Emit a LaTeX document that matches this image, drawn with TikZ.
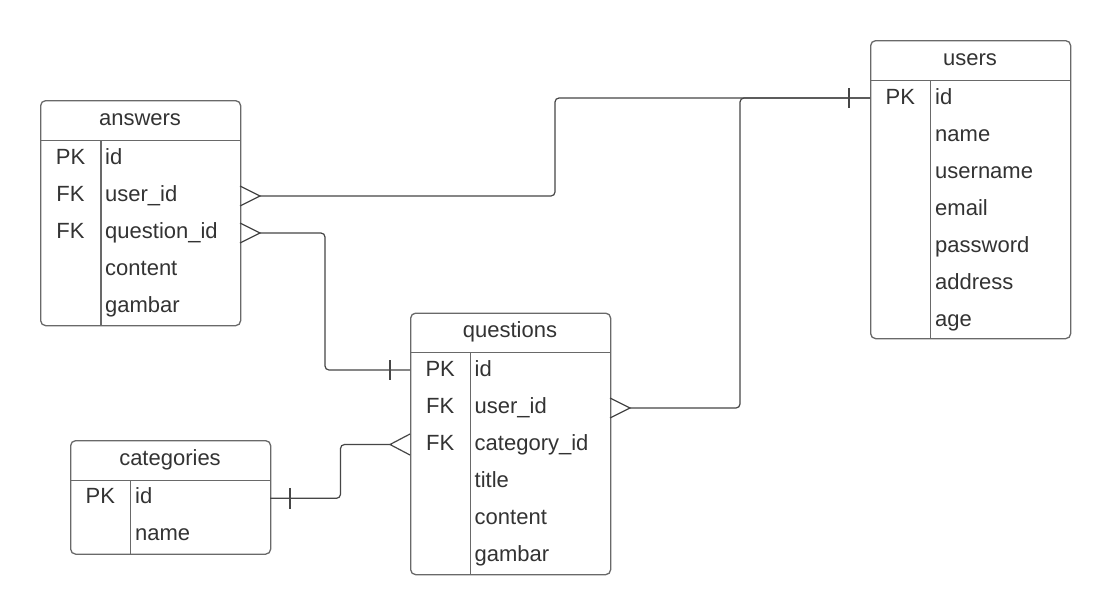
\documentclass[tikz,border=0pt]{standalone}
\usepackage{fontspec}
\setmainfont{Liberation Sans}
\definecolor{boxc}{RGB}{105,105,105}
\definecolor{linec}{RGB}{70,70,70}
\definecolor{txtc}{RGB}{51,51,51}
\tikzset{
  tbl/.style={draw=boxc, line width=1.3pt, rounded corners=5pt, inner sep=0pt, anchor=north west, minimum width=200pt},
  sep/.style={draw=boxc, line width=1.3pt},
  hdr/.style={anchor=base, inner sep=0pt, text=txtc, font=\fontsize{22}{24}\selectfont},
  key/.style={anchor=base, inner sep=0pt, text=txtc, font=\fontsize{22}{24}\selectfont},
  fld/.style={anchor=base west, inner sep=0pt, text=txtc, font=\fontsize{22}{24}\selectfont},
  conn/.style={draw=linec, line width=1.2pt, rounded corners=4pt},
  notation/.style={draw=linec, line width=1.2pt}
}
\begin{document}
\begin{tikzpicture}[x=1pt, y=-1pt]
\useasboundingbox (0,0) rectangle (1110,614);
\fill[white] (0,0) rectangle (1110,614);

% ---------- answers ----------
\node[tbl, minimum height=225pt] (answers) at (40,100) {};
\draw[sep] (40,140.7) -- (240,140.7);
\draw[sep] (101,140.7) -- (101,325);
\node[hdr] (answers-h) at (140,125) {answers};
\node[key] (answers-k1) at (70.5,164) {PK};
\node[key] (answers-k2) at (70.5,201) {FK};
\node[key] (answers-k3) at (70.5,238) {FK};
\node[fld] (answers-f1) at (105,164) {id};
\node[fld] (answers-f2) at (105,201) {user\_id};
\node[fld] (answers-f3) at (105,238) {question\_id};
\node[fld] (answers-f4) at (105,275) {content};
\node[fld] (answers-f5) at (105,312) {gambar};

% ---------- users ----------
\node[tbl, minimum height=298pt] (users) at (870,40) {};
\draw[sep] (870,80.7) -- (1070,80.7);
\draw[sep] (930.7,80.7) -- (930.7,338);
\node[hdr] (users-h) at (970,65) {users};
\node[key] (users-k1) at (900.3,104.5) {PK};
\node[fld] (users-f1) at (935,104.5) {id};
\node[fld] (users-f2) at (935,141.5) {name};
\node[fld] (users-f3) at (935,178.5) {username};
\node[fld] (users-f4) at (935,215.5) {email};
\node[fld] (users-f5) at (935,252.5) {password};
\node[fld] (users-f6) at (935,289.5) {address};
\node[fld] (users-f7) at (935,326.5) {age};

% ---------- questions ----------
\node[tbl, minimum height=261.5pt] (questions) at (410,312.5) {};
\draw[sep] (410,352.3) -- (610,352.3);
\draw[sep] (470.3,352.3) -- (470.3,574);
\node[hdr] (questions-h) at (510,337) {questions};
\node[key] (questions-k1) at (440.2,376) {PK};
\node[key] (questions-k2) at (440.2,413) {FK};
\node[key] (questions-k3) at (440.2,450) {FK};
\node[fld] (questions-f1) at (474.5,376) {id};
\node[fld] (questions-f2) at (474.5,413) {user\_id};
\node[fld] (questions-f3) at (474.5,450) {category\_id};
\node[fld] (questions-f4) at (474.5,487) {title};
\node[fld] (questions-f5) at (474.5,524) {content};
\node[fld] (questions-f6) at (474.5,561) {gambar};

% ---------- categories ----------
\node[tbl, minimum height=113.5pt] (categories) at (70,440) {};
\draw[sep] (70,480.7) -- (270,480.7);
\draw[sep] (130.7,480.7) -- (130.7,553.5);
\node[hdr] (categories-h) at (170,465) {categories};
\node[key] (categories-k1) at (100.3,503.5) {PK};
\node[fld] (categories-f1) at (135,503.5) {id};
\node[fld] (categories-f2) at (135,540.5) {name};

% ---------- connector end points ----------
\coordinate (a-uid) at (240,196);
\coordinate (a-qid) at (240,233);
\coordinate (u-id) at (870,98);
\coordinate (q-id) at (410,370);
\coordinate (q-uid) at (610,408);
\coordinate (q-cid) at (410,444.5);
\coordinate (c-id) at (270,498.3);
\coordinate (b1) at (555,98);
\coordinate (b2) at (740,98);
\coordinate (b3) at (325,370);
\coordinate (b4) at (340.5,444.5);

% ---------- connectors ----------
\draw[conn] ([xshift=20pt]a-uid) -| (b1) -- (u-id);
\draw[conn] ([xshift=20pt]q-uid) -| (b2) -- (u-id);
\draw[conn] ([xshift=20pt]a-qid) -| (b3) -- (q-id);
\draw[conn] (c-id) -| (b4) -- ([xshift=-20pt]q-cid);

% crow's feet (many)
\draw[notation] ([yshift=10pt]a-uid) -- ([xshift=20pt]a-uid) -- ([yshift=-10pt]a-uid);
\draw[notation] ([yshift=10pt]a-qid) -- ([xshift=20pt]a-qid) -- ([yshift=-10pt]a-qid);
\draw[notation] ([yshift=10pt]q-uid) -- ([xshift=20pt]q-uid) -- ([yshift=-10pt]q-uid);
\draw[notation] ([yshift=10.5pt]q-cid) -- ([xshift=-20pt]q-cid) -- ([yshift=-10.5pt]q-cid);

% bars (one)
\draw[notation] ([xshift=-21pt,yshift=10pt]u-id) -- ([xshift=-21pt,yshift=-10pt]u-id);
\draw[notation] ([xshift=-20pt,yshift=10pt]q-id) -- ([xshift=-20pt,yshift=-10pt]q-id);
\draw[notation] ([xshift=20pt,yshift=10.5pt]c-id) -- ([xshift=20pt,yshift=-10.5pt]c-id);
\end{tikzpicture}
\end{document}
